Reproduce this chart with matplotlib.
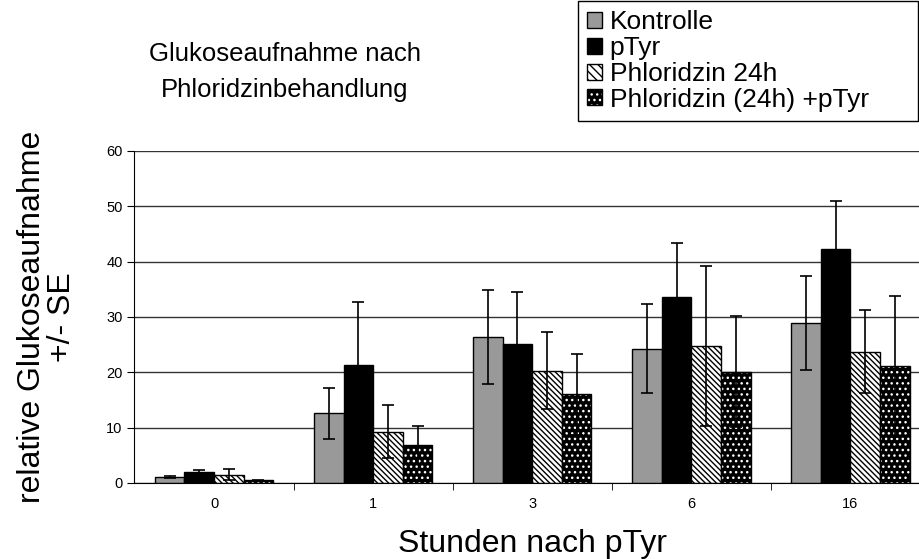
import matplotlib
matplotlib.use('Agg')
import matplotlib.pyplot as plt
from matplotlib.patches import Patch
import numpy as np

plt.rcParams['font.family'] = ['Liberation Sans', 'DejaVu Sans']
plt.rcParams['hatch.linewidth'] = 1.0

# Daten
categories = ['0', '1', '3', '6', '16']
series = ['Kontrolle', 'pTyr', 'Phloridzin 24h', 'Phloridzin (24h) +pTyr']
kontrolle = [1.1, 12.6, 26.4, 24.3, 28.9]
kontrolle_se = [0.2, 4.65, 8.45, 8.1, 8.5]
ptyr = [1.9, 21.3, 25.2, 33.6, 42.3]
ptyr_se = [0.4, 11.4, 9.4, 9.7, 8.7]
phl = [1.5, 9.3, 20.3, 24.8, 23.7]
phl_se = [1.0, 4.85, 6.9, 14.45, 7.5]
phl_ptyr = [0.5, 6.9, 16.0, 20.1, 21.1]
phl_ptyr_se = [0.1, 3.4, 7.4, 10.0, 12.7]

diag = '\\' * 6
dots = '...'

fig = plt.figure(figsize=(9.2, 5.59), dpi=100)
# Plotbereich geht rechts ueber den Bildrand hinaus (wie im Original abgeschnitten)
ax = fig.add_axes([134.5 / 920, 76 / 559, 795.5 / 920, 332 / 559])

x = np.arange(len(categories))
w = 0.186

ax.bar(x - 1.5 * w, kontrolle, w, color='#999999', edgecolor='black', linewidth=1, zorder=2)
ax.bar(x - 0.5 * w, ptyr, w, color='black', edgecolor='black', linewidth=1, zorder=2)
ax.bar(x + 0.5 * w, phl, w, color='white', edgecolor='black', linewidth=1,
       hatch=diag, zorder=2)
# schwarz mit weissen Punkten: erst Muster, dann schwarzer Rahmen
ax.bar(x + 1.5 * w, phl_ptyr, w, color='black', edgecolor='white', linewidth=0,
       hatch=dots, zorder=2)
ax.bar(x + 1.5 * w, phl_ptyr, w, fill=False, edgecolor='black', linewidth=1, zorder=2.1)

for off, vals, se in [(-1.5, kontrolle, kontrolle_se), (-0.5, ptyr, ptyr_se),
                      (0.5, phl, phl_se), (1.5, phl_ptyr, phl_ptyr_se)]:
    ax.errorbar(x + off * w, vals, yerr=se, fmt='none', ecolor='black',
                elinewidth=1.2, capsize=4, capthick=1.2, zorder=3)

ax.set_xlim(-0.5, 4.5)
ax.set_ylim(0, 60)
ax.set_yticks(range(0, 61, 10))
ax.set_xticks(x)
ax.set_xticklabels(categories)
ax.set_xticks(np.arange(0.5, 4.5, 1), minor=True)
ax.tick_params(axis='x', which='major', length=0, labelsize=10.5, pad=10)
ax.tick_params(axis='x', which='minor', length=5, direction='out')
ax.tick_params(axis='y', length=5, labelsize=10.5)

ax.yaxis.grid(True, color='#333333', linewidth=1)
ax.set_axisbelow(True)
ax.spines['top'].set_visible(False)
ax.spines['right'].set_visible(False)

ax.set_xlabel('Stunden nach pTyr', fontsize=23, labelpad=13)
ax.set_ylabel('relative Glukoseaufnahme\n+/- SE', fontsize=23, labelpad=21, linespacing=1.0)

fig.text(285 / 920, 1 - 72 / 559, 'Glukoseaufnahme nach\nPhloridzinbehandlung',
         ha='center', va='center', fontsize=18.5, linespacing=1.65)

handles = [Patch(facecolor='#999999', edgecolor='black'),
           Patch(facecolor='black', edgecolor='black'),
           Patch(facecolor='white', edgecolor='black', hatch='\\' * 4),
           (Patch(facecolor='black', edgecolor='white', hatch=dots, linewidth=0),
            Patch(fill=False, edgecolor='black'))]
leg = fig.legend(handles, series, loc='upper left',
                 bbox_to_anchor=(578 / 920, 0, 340 / 920, 1 - 1 / 559), mode='expand',
                 fontsize=19, frameon=True, fancybox=False, edgecolor='black', framealpha=1,
                 borderpad=0.35, labelspacing=0.07, handlelength=0.55, handleheight=0.55,
                 handletextpad=0.3, borderaxespad=0)
leg.get_frame().set_linewidth(1)

fig.savefig('out.png', dpi=100)
